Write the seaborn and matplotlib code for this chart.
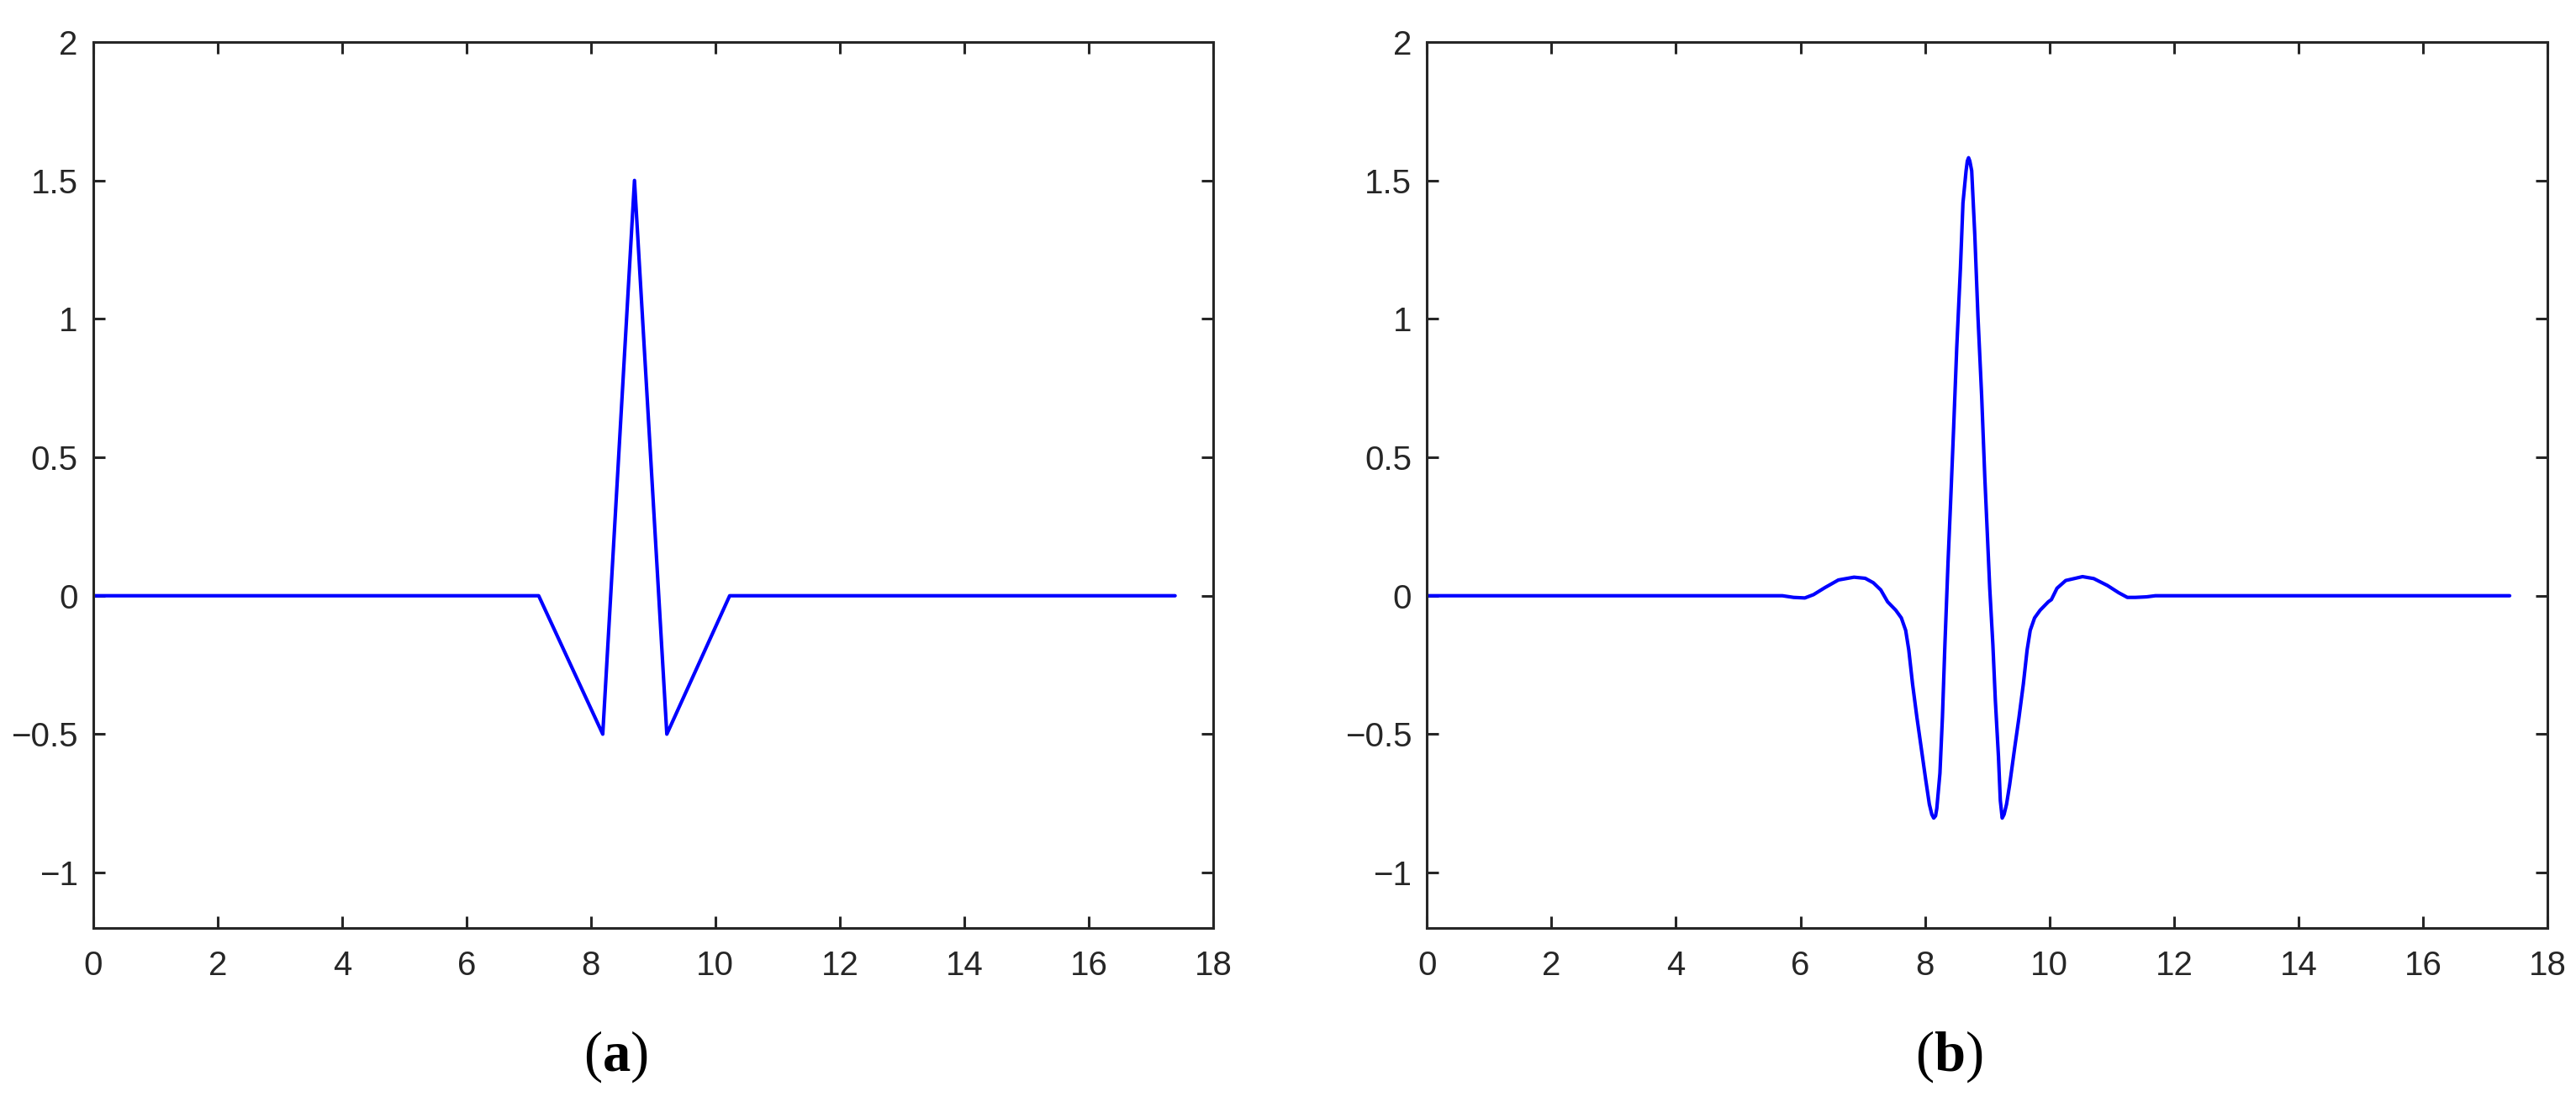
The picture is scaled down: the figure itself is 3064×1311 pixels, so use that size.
import matplotlib
matplotlib.use('Agg')
import matplotlib.pyplot as plt
import seaborn as sns

# panel (a): piecewise linear pulse
left_x = [0.0, 7.16, 8.19, 8.70, 9.22, 10.23, 17.39]
left_y = [0.0, 0.0, -0.5, 1.5, -0.5, 0.0, 0.0]

# panel (b): smoothed pulse
right_x = [0.00, 5.44, 5.71, 5.89, 6.07, 6.21, 6.39, 6.61, 6.86, 7.04, 7.17, 7.29,
           7.40, 7.53, 7.62, 7.69, 7.74, 7.80, 7.87, 7.94, 8.01, 8.07, 8.11, 8.14,
           8.17, 8.19, 8.24, 8.28, 8.32, 8.37, 8.41, 8.46, 8.51, 8.57, 8.61, 8.66,
           8.68, 8.70, 8.72, 8.75, 8.80, 8.85, 8.91, 8.96, 9.00, 9.04, 9.09, 9.13,
           9.18, 9.21, 9.24, 9.27, 9.31, 9.36, 9.44, 9.51, 9.58, 9.64, 9.69, 9.76,
           9.85, 9.98, 10.03, 10.12, 10.26, 10.53, 10.71, 10.93, 11.11, 11.25, 11.38,
           11.56, 11.70, 17.39]
right_y = [0.0, 0.0, 0.0, -0.006, -0.008, 0.004, 0.029, 0.057, 0.067, 0.063, 0.047, 0.021,
           -0.022, -0.052, -0.080, -0.125, -0.196, -0.318, -0.439, -0.550, -0.662, -0.753, -0.790, -0.803,
           -0.795, -0.768, -0.641, -0.439, -0.176, 0.120, 0.330, 0.606, 0.896, 1.187, 1.419, 1.535,
           1.570, 1.582, 1.570, 1.535, 1.303, 1.012, 0.722, 0.431, 0.230, 0.027, -0.176, -0.378,
           -0.581, -0.740, -0.803, -0.790, -0.753, -0.682, -0.550, -0.439, -0.318, -0.196, -0.125, -0.080,
           -0.052, -0.022, -0.014, 0.027, 0.055, 0.069, 0.062, 0.037, 0.011, -0.006, -0.006,
           -0.004, 0.0, 0.0]

x_ticks = [0, 2, 4, 6, 8, 10, 12, 14, 16, 18]
y_ticks = [-1, -0.5, 0, 0.5, 1, 1.5, 2]
captions = ['a', 'b']

sns.set_theme(style='ticks')
plt.rcParams['font.family'] = ['Liberation Sans', 'DejaVu Sans']
plt.rcParams['mathtext.fontset'] = 'custom'
plt.rcParams['mathtext.rm'] = 'Liberation Serif'
plt.rcParams['mathtext.bf'] = 'Liberation Serif:bold'

dark = '#262626'
fig = plt.figure(figsize=(30.64, 13.11), dpi=100)
ax_a = fig.add_axes([0.0362, 0.1579, 0.4347, 0.8040])
ax_b = fig.add_axes([0.5539, 0.1579, 0.4351, 0.8040])

for ax, xs, ys in [(ax_a, left_x, left_y), (ax_b, right_x, right_y)]:
    sns.lineplot(x=xs, y=ys, ax=ax, color='#0000ff', linewidth=3,
                 estimator=None, sort=False)
    ax.set_xlim(0, 18)
    ax.set_ylim(-1.2, 2)
    ax.set_xticks(x_ticks)
    ax.set_yticks(y_ticks)
    ax.set_xticklabels([str(t) for t in x_ticks])
    ax.set_yticklabels(['\u22121', '\u22120.5', '0', '0.5', '1', '1.5', '2'])
    ax.tick_params(axis='both', direction='in', length=10, width=2.2,
                   colors=dark, labelsize=29, top=True, right=True)
    ax.tick_params(axis='x', pad=19)
    ax.tick_params(axis='y', pad=13)
    for s in ax.spines.values():
        s.set_visible(True)
        s.set_linewidth(2.2)
        s.set_color(dark)
    ax.set_xlabel('')
    ax.set_ylabel('')

fig.text(732 / 3064, 0.0412, r'$(\mathbf{a})$', fontsize=48, ha='center', va='center', color='black')
fig.text(2318 / 3064, 0.0412, r'$(\mathbf{b})$', fontsize=48, ha='center', va='center', color='black')

fig.savefig('out.png', dpi=100)
